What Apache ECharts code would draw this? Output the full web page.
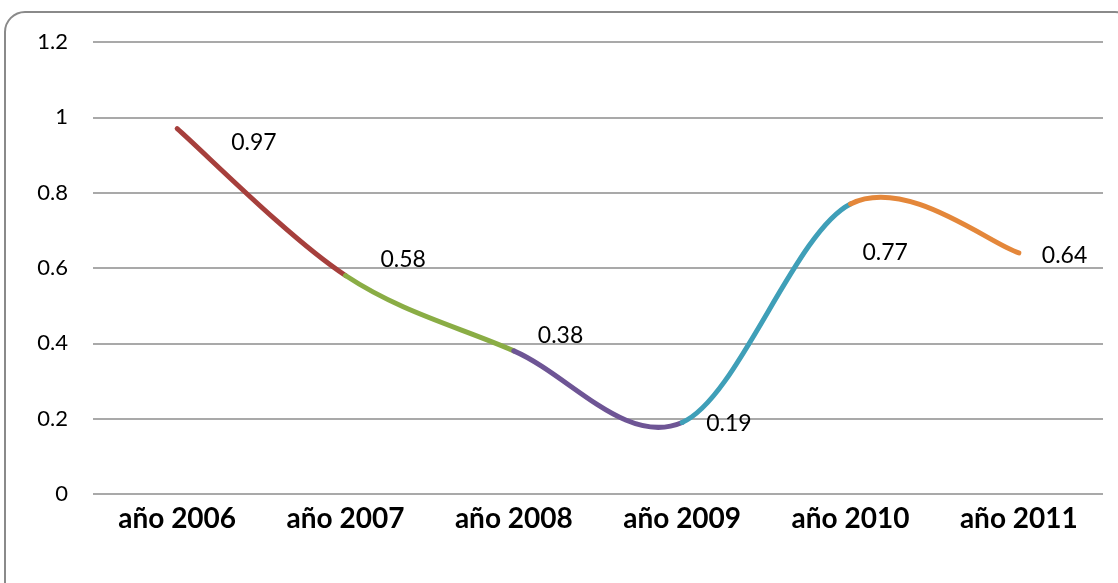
<!DOCTYPE html>
<html>
<head>
<meta charset="utf-8">
<script src="https://cdn.jsdelivr.net/npm/echarts@6/dist/echarts.min.js"></script>
<style>
  html, body { margin: 0; padding: 0; background: #fff; }
  #chart { width: 1118px; height: 583px; }
</style>
</head>
<body>
<div id="chart"></div>
<script>
// categorias y valores
var years = ['año 2006', 'año 2007', 'año 2008', 'año 2009', 'año 2010', 'año 2011']
var values = [0.97, 0.58, 0.38, 0.19, 0.77, 0.64]
var segmentColors = ['#a63f3c', '#8aad45', '#6e5595', '#3f9fb8', '#e4873a']
// desplazamiento de cada etiqueta respecto al punto
var labelOffsets = [[54, 14], [35, -16], [24, -15], [24, 1], [12, 49], [23, 3]]

var chart = echarts.init(document.getElementById('chart'))

var font = 'Lato, "Open Sans", sans-serif'

// curva suavizada tipo Excel (Catmull-Rom), un tramo por punto
function renderSegment(params, api) {
  var n = values.length
  var i = params.dataIndex
  function pt(j) {
    j = Math.max(0, Math.min(n - 1, j))
    return api.coord([j, api.value(1, j)])
  }
  var children = []
  if (i < n - 1) {
    var p0 = pt(i - 1), p1 = pt(i), p2 = pt(i + 1), p3 = pt(i + 2)
    children.push({
      type: 'bezierCurve',
      shape: {
        x1: p1[0], y1: p1[1],
        cpx1: p1[0] + (p2[0] - p0[0]) / 6, cpy1: p1[1] + (p2[1] - p0[1]) / 6,
        cpx2: p2[0] - (p3[0] - p1[0]) / 6, cpy2: p2[1] - (p3[1] - p1[1]) / 6,
        x2: p2[0], y2: p2[1]
      },
      style: { fill: 'none', stroke: segmentColors[i], lineWidth: 5, lineCap: 'round' }
    })
  }
  var p = pt(i)
  children.push({
    type: 'text',
    z2: 10,
    style: {
      text: String(api.value(1)),
      x: p[0] + labelOffsets[i][0],
      y: p[1] + labelOffsets[i][1],
      align: 'left',
      verticalAlign: 'middle',
      fill: '#000',
      fontFamily: font,
      fontSize: 23
    }
  })
  return { type: 'group', children: children }
}

chart.setOption({
  animation: false,
  grid: {
    left: 93,
    right: 15,
    top: 42,
    bottom: 89
  },
  graphic: [
    {
      type: 'rect',
      shape: { x: 5, y: 12, width: 1130, height: 600, r: 20 },
      style: { fill: 'none', stroke: '#8a8a8a', lineWidth: 2 },
      silent: true
    }
  ],
  xAxis: {
    type: 'category',
    data: years,
    axisLine: { show: false },
    axisTick: { show: false },
    axisLabel: {
      color: '#000',
      fontFamily: font,
      fontWeight: 'bold',
      fontSize: 28,
      margin: 11
    }
  },
  yAxis: {
    type: 'value',
    min: 0,
    max: 1.2,
    interval: 0.2,
    axisLine: { show: false },
    axisTick: { show: false },
    splitLine: { lineStyle: { color: '#8c8c8c', width: 1.5 } },
    axisLabel: {
      color: '#000',
      fontFamily: font,
      fontSize: 22,
      margin: 25,
      formatter: function (v) { return String(Math.round(v * 10) / 10) }
    }
  },
  series: [
    {
      type: 'custom',
      renderItem: renderSegment,
      encode: { x: 0, y: 1 },
      data: values.map(function (v, i) { return [i, v] })
    }
  ]
})
</script>
</body>
</html>
